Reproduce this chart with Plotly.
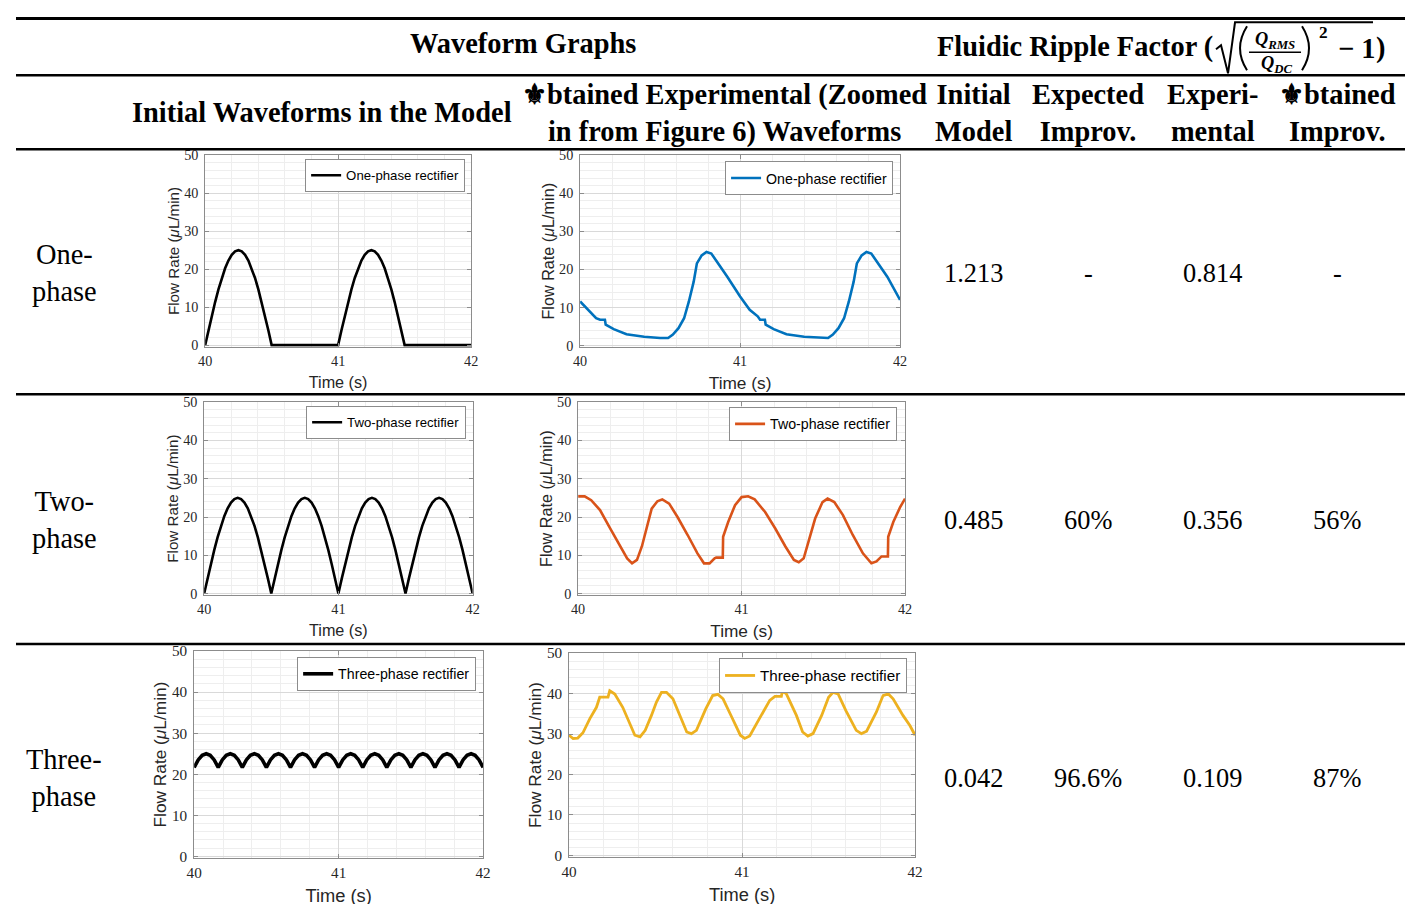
import plotly.graph_objects as go

FW, FH = 1413, 904
# the photographed page shows the figure offset by the page margin and slightly scaled;
# these constants map the reference's pixel positions into figure pixels
SX, SY = 0.9888, 0.9826
OFF = 16
FS = 1.0 / 0.985  # font compensation for the scaling

# ---------------- data ----------------
t_model12 = [round(40 + 0.025 * i, 4) for i in range(81)]
arch_half = [0, 3.91, 7.73, 11.35, 14.69, 17.68, 20.23, 22.28, 23.78, 24.69, 25.0,
             24.69, 23.78, 22.28, 20.23, 17.68, 14.69, 11.35, 7.73, 3.91, 0]
model_one = arch_half + [0] * 19 + arch_half + [0] * 20
model_two = arch_half + arch_half[1:] + arch_half[1:] + arch_half[1:]
t_model3 = [round(40 + i / 36, 4) for i in range(73)]
arch_three = [21.65, 23.49, 24.62, 25.0, 24.62, 23.49]
model_three = arch_three * 12 + [21.65]

exp_one_t = [40.0, 40.04, 40.07, 40.10, 40.125, 40.155, 40.16, 40.21, 40.29, 40.40, 40.50,
             40.55, 40.58, 40.615, 40.65, 40.68, 40.71, 40.73, 40.76, 40.79, 40.82, 40.85,
             40.92, 41.0, 41.06, 41.11, 41.125, 41.155, 41.16, 41.21, 41.29, 41.40, 41.50,
             41.55, 41.58, 41.615, 41.65, 41.68, 41.71, 41.73, 41.76, 41.79, 41.82, 41.85,
             41.92, 42.0]
exp_one_y = [11.6, 9.8, 8.5, 7.2, 6.8, 6.8, 5.5, 4.35, 3.0, 2.35, 2.0,
             2.0, 2.9, 4.6, 7.2, 11.6, 16.8, 21.6, 23.7, 24.6, 24.2, 22.4,
             18.1, 12.9, 9.4, 7.7, 6.8, 6.8, 5.5, 4.35, 3.0, 2.35, 2.0,
             2.0, 2.9, 4.6, 7.2, 11.6, 16.8, 21.6, 23.7, 24.6, 24.2, 22.4,
             18.1, 12.0]

exp_two_t = [40.0, 40.04, 40.08, 40.134, 40.196, 40.258, 40.30, 40.33, 40.36, 40.39, 40.42,
             40.45, 40.485, 40.515, 40.557, 40.608, 40.67, 40.73, 40.77, 40.804, 40.835,
             40.845, 40.885, 40.887, 40.918, 40.96, 41.0, 41.04, 41.08, 41.144, 41.206,
             41.268, 41.32, 41.35, 41.38, 41.41, 41.45, 41.495, 41.526, 41.567, 41.62,
             41.68, 41.742, 41.794, 41.825, 41.856, 41.895, 41.897, 41.928, 41.97, 42.0]
exp_two_y = [25.4, 25.4, 24.4, 21.8, 17.0, 12.3, 9.2, 7.9, 8.8, 12.3, 17.0,
             22.2, 24.1, 24.6, 23.5, 20.0, 15.3, 10.5, 7.9, 7.9, 9.2,
             9.4, 9.4, 14.85, 18.7, 23.1, 25.2, 25.4, 24.6, 21.3, 17.0,
             12.3, 8.8, 8.2, 9.2, 13.6, 19.6, 23.9, 24.8, 23.9, 20.5,
             15.3, 10.5, 7.9, 8.4, 9.7, 9.7, 14.85, 18.7, 22.6, 24.8]

exp_three_t = [40.0, 40.023, 40.05, 40.08, 40.12, 40.158, 40.177, 40.225, 40.235, 40.264,
               40.31, 40.35, 40.38, 40.41, 40.44, 40.476, 40.505, 40.534, 40.563, 40.60,
               40.64, 40.68, 40.707, 40.736, 40.79, 40.83, 40.86, 40.89, 40.94, 40.99,
               41.015, 41.044, 41.10, 41.16, 41.19, 41.227, 41.233, 41.256, 41.314, 41.35,
               41.38, 41.41, 41.46, 41.50, 41.526, 41.555, 41.60, 41.66, 41.69, 41.72,
               41.776, 41.815, 41.845, 41.873, 41.93, 41.97, 42.0]
exp_three_y = [29.7, 28.9, 29.0, 30.3, 33.8, 36.6, 39.1, 39.1, 40.7, 39.9,
               36.6, 32.5, 29.7, 29.3, 30.9, 34.6, 37.9, 40.3, 40.3, 38.7,
               34.6, 30.5, 30.1, 30.9, 36.2, 39.5, 39.8, 38.7, 34.2, 29.7,
               28.9, 29.5, 33.8, 38.3, 39.3, 39.3, 40.7, 39.9, 34.6, 30.5,
               29.5, 30.1, 34.6, 39.1, 40.3, 39.9, 35.8, 30.9, 30.1, 30.7,
               35.4, 39.5, 39.9, 38.7, 34.6, 32.1, 29.7]

series_names = ["One-phase rectifier", "One-phase rectifier",
                "Two-phase rectifier", "Two-phase rectifier",
                "Three-phase rectifier", "Three-phase rectifier"]
x_ticks = [40, 41, 42]
y_ticks = [0, 10, 20, 30, 40, 50]

row_labels = ["One-<br>phase", "Two-<br>phase", "Three-<br>phase"]
initial_model = ["1.213", "0.485", "0.042"]
expected_improv = ["-", "60%", "96.6%"]
experimental = ["0.814", "0.356", "0.109"]
obtained_improv = ["-", "56%", "87%"]

# ---------------- styling / layout ----------------
COL_BLACK = "#000000"
COL_BLUE = "#0072BD"
COL_ORANGE = "#D95319"
COL_YELLOW = "#EDB120"
SERIF = "Liberation Serif"
SANS = "Liberation Sans"


def ux(X):
    return max(X / SX - OFF, 0.0)


def uy(Y):
    return max(Y / SY - OFF, 0.0)


def px(X):
    return ux(X) / FW


def py(Y):
    return 1 - uy(Y) / FH


def P(x, y):
    return f"{px(x):.5f},{py(y):.5f}"


def fs(s):
    return round(s * FS, 1)


traces = [
    (t_model12, model_one, COL_BLACK, 2.6),
    (exp_one_t, exp_one_y, COL_BLUE, 2.6),
    (t_model12, model_two, COL_BLACK, 2.6),
    (exp_two_t, exp_two_y, COL_ORANGE, 2.6),
    (t_model3, model_three, COL_BLACK, 3.6),
    (exp_three_t, exp_three_y, COL_YELLOW, 2.8),
]

# subplot boxes in reference pixels: x0, x1, top, bottom, tick font, x-title font,
# y-title font, legend right, legend top, legend font
boxes = [
    (205, 471, 154, 345.5, 14, 16, 15, 465, 158, 13),
    (580, 900, 154, 346, 14, 17, 16, 893, 160, 14),
    (204, 472.5, 401, 594, 14, 16, 15, 466, 405, 13),
    (578, 905, 401, 594, 14, 17, 16, 897, 406, 14),
    (194, 483, 650, 857, 15, 18, 17, 476, 656, 14),
    (569, 915, 652, 856, 15, 18, 17, 907, 657, 15),
]

fig = go.Figure()
layout = dict(width=FW, height=FH, margin=dict(l=0, r=0, t=0, b=0),
              paper_bgcolor="white", plot_bgcolor="white", showlegend=True)

AX_COL = "#8c8c8c"
for i, ((tx, ty, col, lw), b) in enumerate(zip(traces, boxes)):
    x0, x1, top, bot, tfs, xtfs, ytfs, lr, lt, lfs = b
    n = "" if i == 0 else str(i + 1)
    leg = "legend" + n
    fig.add_trace(go.Scatter(x=tx, y=ty, mode="lines", name=series_names[i],
                             line=dict(color=col, width=lw),
                             xaxis="x" + n, yaxis="y" + n, legend=leg,
                             showlegend=True, hoverinfo="skip"))
    common = dict(showline=True, linecolor=AX_COL, linewidth=1, mirror="ticks",
                  ticks="inside", ticklen=4, tickcolor=AX_COL, zeroline=False,
                  showgrid=True, gridcolor="#d9d9d9", gridwidth=1,
                  tickfont=dict(family=SERIF, size=fs(tfs), color="#262626"))
    layout["xaxis" + n] = dict(
        common, domain=[px(x0), px(x1)], anchor="y" + n, range=[40, 42],
        tickvals=x_ticks, ticklabelstandoff=1,
        minor=dict(dtick=0.2, tick0=40, showgrid=True, gridcolor="#eeeeee", ticks=""),
        title=dict(text="Time (s)", font=dict(family=SANS, size=fs(xtfs), color="#262626"),
                   standoff=8))
    layout["yaxis" + n] = dict(
        common, domain=[py(bot), py(top)], anchor="x" + n, range=[-0.4, 50],
        tickvals=y_ticks, ticklabelstandoff=3,
        minor=dict(dtick=2, tick0=0, showgrid=True, gridcolor="#eeeeee", ticks=""),
        title=dict(text="Flow Rate (<i>μ</i>L/min)",
                   font=dict(family=SANS, size=fs(ytfs), color="#262626"), standoff=0))
    layout[leg] = dict(x=px(lr), y=py(lt), xanchor="right", yanchor="top",
                       bgcolor="white", bordercolor=AX_COL, borderwidth=1,
                       font=dict(family=SANS, size=fs(lfs), color="#000000"),
                       itemwidth=30, tracegroupgap=0)

fig.update_layout(**layout)

# table rules (the top rule sits at the upper edge of the figure)
shapes = []
for y, w in [(None, 3), (74, 2.5), (148, 2.5), (393, 2.5), (643, 2.5)]:
    yy = 1 - 1.5 / FH if y is None else py(y)
    shapes.append(dict(type="line", xref="paper", yref="paper", x0=0, x1=px(1405),
                       y0=yy, y1=yy, line=dict(color="black", width=w)))

# square root sign, big parentheses and fraction bar of the ripple-factor formula
shapes.append(dict(type="path", xref="paper", yref="paper",
                   path=f"M {P(1216, 48)} L {P(1221, 44)} L {P(1228, 72)} L {P(1235, 21)} L {P(1373, 21)}",
                   line=dict(color="black", width=2)))
shapes.append(dict(type="path", xref="paper", yref="paper",
                   path=f"M {P(1247, 25)} Q {P(1233, 47)} {P(1247, 69)}",
                   line=dict(color="black", width=2)))
shapes.append(dict(type="path", xref="paper", yref="paper",
                   path=f"M {P(1302, 25)} Q {P(1316, 47)} {P(1302, 69)}",
                   line=dict(color="black", width=2)))
shapes.append(dict(type="line", xref="paper", yref="paper", x0=px(1249), x1=px(1301),
                   y0=py(51), y1=py(51), line=dict(color="black", width=1.5)))

annotations = []


def ann(text, x, y, size, xanchor="center", bold=False):
    t = f"<b>{text}</b>" if bold else text
    annotations.append(dict(text=t, x=px(x), y=py(y), xref="paper", yref="paper",
                            showarrow=False, xanchor=xanchor, yanchor="middle",
                            align="center",
                            font=dict(family=SERIF, size=fs(size), color="black")))


HB = 28
ann("Waveform Graphs", 523, 42, HB, bold=True)
ann("Fluidic Ripple Factor (", 1215, 46, HB, xanchor="right", bold=True)
ann("<i>Q</i><sub><i>RMS</i></sub>", 1275, 39, 18, bold=True)
ann("<i>Q</i><sub><i>DC</i></sub>", 1276, 63, 18, bold=True)
ann("2", 1323, 31, 17, bold=True)
ann("− 1", 1336, 47, HB, xanchor="left", bold=True)
ann(")", 1374, 47, HB, xanchor="left", bold=True)

ann("Initial Waveforms in the Model", 322, 111, HB, bold=True)
ann("⚜btained Experimental (Zoomed<br>in from Figure 6) Waveforms", 724, 112, HB, bold=True)
ann("Initial<br>Model", 973, 112, HB, bold=True)
ann("Expected<br>Improv.", 1088, 112, HB, bold=True)
ann("Experi-<br>mental", 1212, 112, HB, bold=True)
ann("⚜btained<br>Improv.", 1337, 112, HB, bold=True)

row_y = [272, 519, 777]
for r in range(3):
    ann(row_labels[r], 64, row_y[r], 28)
    ann(initial_model[r], 973, row_y[r], 26)
    ann(expected_improv[r], 1088, row_y[r], 26)
    ann(experimental[r], 1212, row_y[r], 26)
    ann(obtained_improv[r], 1337, row_y[r], 26)

fig.update_layout(shapes=shapes, annotations=annotations)
fig.write_html("out.html")
